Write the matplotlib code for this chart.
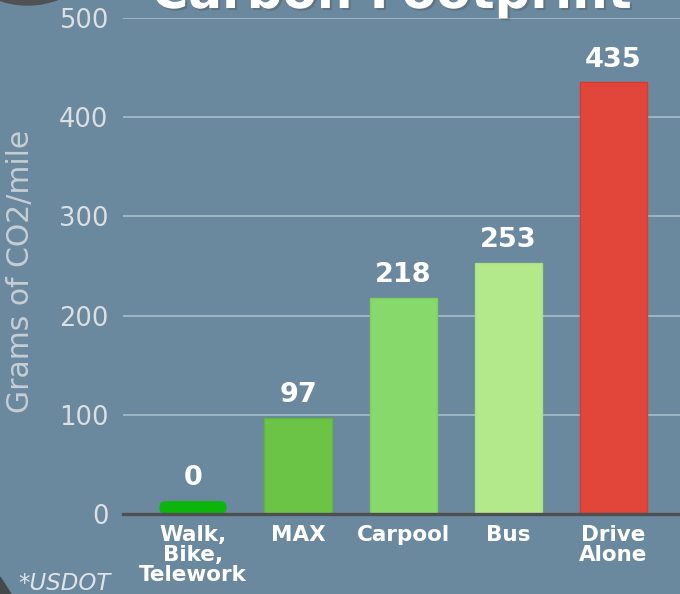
import numpy as np
import matplotlib.pyplot as plt
from matplotlib.patches import FancyBboxPatch, Ellipse, Polygon
import matplotlib.patheffects as pe

# data
categories = ["Walk,\nBike,\nTelework", "MAX", "Carpool", "Bus", "Drive\nAlone"]
co2_per_mile = [0, 97, 218, 253, 435]
y_ticks = [0, 100, 200, 300, 400, 500]

bar_colors = ["#0cb50c", "#6cc447", "#86d96a", "#b4e98b", "#e2463a"]
edge_colors = ["#0cb50c", "#5cb83a", "#7bd05f", "#a8df7e", "#d93a2f"]
bg = "#6a889e"

W, H = 680, 594
fig = plt.figure(figsize=(W / 100, H / 100), dpi=100, facecolor=bg)
# axes placed so that 0 -> y=514px, 500 -> y=18px
ax = fig.add_axes([123 / W, (H - 514) / H, 557 / W, 496 / H], facecolor=bg)

x = np.arange(len(categories))
ax.set_xlim(-0.666, 4.634)
ax.set_ylim(0, 500)

# zero bar still gets a small visible stub like the original
min_h = 13
heights = np.maximum(co2_per_mile, min_h)
bars = ax.bar(x, heights, width=0.64, color=bar_colors, edgecolor=edge_colors,
              linewidth=1, zorder=3)

# round off the stub for the zero value
fig.canvas.draw()
px_x = ax.transData.transform([[1, 0]])[0][0] - ax.transData.transform([[0, 0]])[0][0]
px_y = ax.transData.transform([[0, 1]])[0][1] - ax.transData.transform([[0, 0]])[0][1]
for b, v, c in zip(bars, co2_per_mile, bar_colors):
    if v == 0:
        b.set_visible(False)
        r = 6.5 / px_x
        ax.add_patch(FancyBboxPatch((b.get_x(), 0), b.get_width(), b.get_height(),
                                    boxstyle=f"round,pad=0,rounding_size={r}",
                                    mutation_aspect=px_x / px_y,
                                    facecolor=c, edgecolor="none", zorder=3))

# value labels
for xi, h, v in zip(x, heights, co2_per_mile):
    ax.annotate(str(v), (xi, h), xytext=(0, 11.5), textcoords="offset points",
                ha="center", va="baseline", fontsize=19.5, fontweight="bold",
                color="white", zorder=4)

ax.set_yticks(y_ticks)
ax.set_xticks(x)
ax.set_xticklabels(categories, fontsize=15.5, fontweight="bold", color="white",
                   linespacing=1.0)
ax.tick_params(axis="x", length=0, pad=8)
ax.tick_params(axis="y", length=0, pad=10.5, labelsize=18.5, labelcolor="#dde0e3")
ax.grid(axis="y", color="#a6bfcc", linewidth=1.2, zorder=0)
ax.set_axisbelow(True)
for s in ["left", "right", "top"]:
    ax.spines[s].set_visible(False)
ax.spines["bottom"].set_color("#4d4f51")
ax.spines["bottom"].set_linewidth(2.4)
ax.spines["bottom"].set_zorder(5)

fig.text(21 / W, 1 - 271 / H, "Grams of CO2/mile", rotation=90, ha="center",
         va="center", fontsize=21.5, color="#c6ced4")

# title, mostly cut off at the top
fig.text(392 / W, 1 - 8 / H, "Carbon Footprint", ha="center", va="baseline",
         fontsize=36, fontweight="bold", color="white",
         path_effects=[pe.SimplePatchShadow(offset=(1.5, -1.5), alpha=0.35), pe.Normal()])

fig.text(18 / W, 1 - 590 / H, "*USDOT", ha="left", va="baseline", fontsize=16.5,
         style="italic", color="#dfe4e8")

# decorations: dark circle top-left, dark corner bottom-left
fig.add_artist(Ellipse((27.5 / W, (H + 81) / H), 172 / W, 172 / H,
                       transform=fig.transFigure, color="#4f5153", zorder=0))
fig.add_artist(Polygon([(0, 0), (0, 17 / H), (11 / W, 0)], closed=True,
                       transform=fig.transFigure, color="#45494c", zorder=0))

fig.savefig("out.png", dpi=100, facecolor=bg)
